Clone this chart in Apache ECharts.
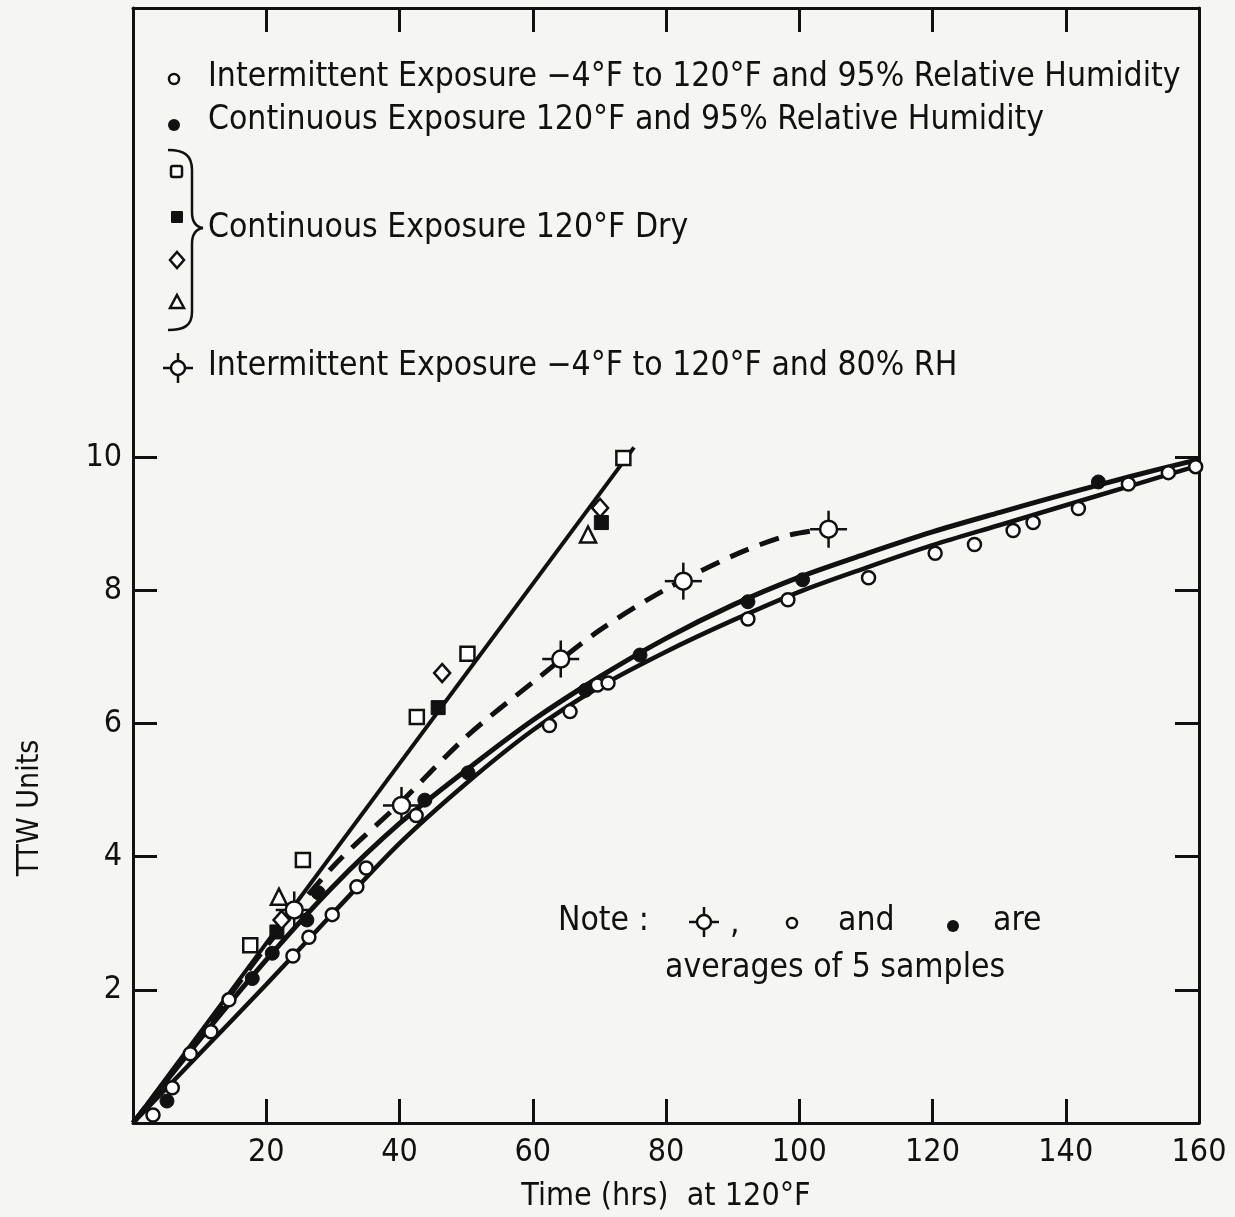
<!DOCTYPE html>
<html>
<head>
<meta charset="utf-8">
<script src="https://cdn.jsdelivr.net/npm/echarts@6/dist/echarts.min.js"></script>
<style>
  html, body { margin: 0; padding: 0; background: #f5f5f3; }
  #chart { width: 1235px; height: 1217px; }
</style>
</head>
<body>
<div id="chart"></div>
<script>
// ---- axis ticks and labels ----
const xTickValues = [20, 40, 60, 80, 100, 120, 140];
const xLabelValues = [20, 40, 60, 80, 100, 120, 140, 160];
const yTickValues = [2, 4, 6, 8, 10];

// ---- measured points (Time hrs, TTW units) ----
// Intermittent exposure -4°F to 120°F, 95% RH (open circles)
const intermittent95 = [
  [3.0, 0.12], [5.9, 0.53], [8.6, 1.04], [11.7, 1.37], [14.4, 1.85],
  [24.0, 2.51], [26.4, 2.79], [29.9, 3.13], [33.6, 3.55], [35.0, 3.83],
  [42.5, 4.62], [62.5, 5.97], [65.6, 6.18], [69.7, 6.58], [71.3, 6.61],
  [92.3, 7.57], [98.3, 7.86], [110.4, 8.19], [120.4, 8.56], [126.3, 8.69],
  [132.1, 8.90], [135.1, 9.02], [141.9, 9.23], [149.4, 9.60], [155.4, 9.77],
  [159.5, 9.86]
];
// Continuous exposure 120°F, 95% RH (filled circles)
const continuous95 = [
  [5.1, 0.33], [17.9, 2.17], [20.9, 2.55], [26.1, 3.05], [27.8, 3.46],
  [43.8, 4.85], [50.3, 5.26], [67.9, 6.50], [76.1, 7.03], [92.3, 7.83],
  [100.5, 8.16], [144.9, 9.63]
];
// Continuous exposure 120°F dry (four sample sets)
const dryOpenSquare = [[17.6, 2.67], [25.5, 3.95], [42.6, 6.10], [50.2, 7.05], [73.6, 9.99]];
const dryFilledSquare = [[21.6, 2.87], [45.8, 6.24], [70.3, 9.02]];
const dryDiamond = [[22.3, 3.05], [46.4, 6.76], [70.1, 9.24]];
const dryTriangle = [[21.9, 3.40], [68.3, 8.84]];
// Intermittent exposure -4°F to 120°F, 80% RH
const intermittent80 = [[24.2, 3.20], [40.3, 4.77], [64.2, 6.97], [82.6, 8.14], [104.4, 8.92]];

// ---- fitted curves ----
const dryFit = [[0, 0], [75.2, 10.15]];
const continuous95Fit = [
  [0, 0], [10, 1.25], [20, 2.45], [30, 3.55], [40, 4.5], [50, 5.3], [60, 6.05],
  [70, 6.7], [80, 7.28], [90, 7.78], [100, 8.2], [110, 8.55], [120, 8.88],
  [130, 9.17], [140, 9.45], [150, 9.72], [160, 9.97]
];
const intermittent95Fit = [
  [0, 0], [10, 1.04], [20, 2.08], [30, 3.15], [40, 4.2], [50, 5.1], [60, 5.9],
  [70, 6.55], [80, 7.08], [90, 7.55], [100, 7.98], [110, 8.34], [120, 8.68],
  [130, 8.98], [140, 9.28], [150, 9.58], [160, 9.88]
];
const intermittent80Fit = [
  [0, 0], [10, 1.3], [20, 2.65], [30, 3.85], [40, 4.8], [50, 5.8], [60, 6.62],
  [70, 7.4], [80, 8.02], [90, 8.52], [98, 8.82], [104.4, 8.93]
];

const INK = '#111';
const FONT = "'Liberation Sans Narrow', 'DejaVu Sans Condensed', 'Roboto Condensed', Roboto, sans-serif";

function crosshairShape(cx, cy, r, arm, lw) {
  const s = { stroke: INK, lineWidth: lw };
  return [
    { type: 'line', shape: { x1: cx - r - arm, y1: cy, x2: cx - r, y2: cy }, style: s },
    { type: 'line', shape: { x1: cx + r, y1: cy, x2: cx + r + arm, y2: cy }, style: s },
    { type: 'line', shape: { x1: cx, y1: cy - r - arm, x2: cx, y2: cy - r }, style: s },
    { type: 'line', shape: { x1: cx, y1: cy + r, x2: cx, y2: cy + r + arm }, style: s },
    { type: 'circle', shape: { cx: cx, cy: cy, r: r }, style: { fill: '#fff', stroke: INK, lineWidth: lw } }
  ];
}

function txt(x, y, text, size, align) {
  return {
    type: 'text', x: x, y: y, silent: true,
    style: { text: text, fill: INK, font: size + 'px ' + FONT, textAlign: align || 'left', textVerticalAlign: 'middle' }
  };
}

const braceStyle = { fill: null, stroke: INK, lineWidth: 2.5 };
function bez(x1, y1, c1x, c1y, c2x, c2y, x2, y2) {
  return { type: 'bezierCurve', silent: true, style: braceStyle,
    shape: { x1: x1, y1: y1, cpx1: c1x, cpy1: c1y, cpx2: c2x, cpy2: c2y, x2: x2, y2: y2 } };
}
function seg(x1, y1, x2, y2) {
  return { type: 'line', silent: true, style: braceStyle, shape: { x1: x1, y1: y1, x2: x2, y2: y2 } };
}

const openStyle = { color: '#fff', borderColor: INK, borderWidth: 2.5, opacity: 1 };
const filledStyle = { color: INK, borderColor: INK, borderWidth: 1, opacity: 1 };

function axisCommon(extra) {
  return Object.assign({
    type: 'value',
    axisLine: { show: true, onZero: false, lineStyle: { color: INK, width: 3 } },
    splitLine: { show: false },
    axisTick: { show: true, inside: true, length: 24, lineStyle: { color: INK, width: 3 } },
    axisLabel: { show: false }
  }, extra);
}

const chart = echarts.init(document.getElementById('chart'), null, { renderer: 'canvas' });

const option = {
  backgroundColor: '#f5f5f3',
  animation: false,
  grid: { left: 133, right: 36, top: 8, bottom: 94, outerBoundsMode: 'none', containLabel: false },
  xAxis: [
    axisCommon({
      min: 0, max: 160, interval: 20, position: 'bottom',
      axisTick: { show: true, inside: true, length: 24, customValues: xTickValues, lineStyle: { color: INK, width: 3 } },
      axisLabel: { show: true, customValues: xLabelValues, margin: 14, fontSize: 32, fontFamily: FONT, color: INK },
      name: 'Time (hrs)  at 120°F', nameLocation: 'middle', nameGap: 58,
      nameTextStyle: { fontSize: 32, fontFamily: FONT, color: INK }
    }),
    axisCommon({
      min: 0, max: 160, interval: 20, position: 'top',
      axisTick: { show: true, inside: true, length: 24, customValues: xTickValues, lineStyle: { color: INK, width: 3 } }
    })
  ],
  yAxis: [
    axisCommon({
      min: 0, max: 16.75, interval: 2, position: 'left',
      axisTick: { show: true, inside: true, length: 24, customValues: yTickValues, lineStyle: { color: INK, width: 3 } },
      axisLabel: { show: true, customValues: yTickValues, margin: 11, fontSize: 32, fontFamily: FONT, color: INK }
    }),
    axisCommon({
      min: 0, max: 16.75, interval: 2, position: 'right',
      axisTick: { show: true, inside: true, length: 24, customValues: yTickValues, lineStyle: { color: INK, width: 3 } }
    })
  ],
  series: [
    { type: 'line', data: dryFit, showSymbol: false, silent: true, z: 2,
      lineStyle: { color: INK, width: 4 } },
    { type: 'line', data: continuous95Fit, smooth: 0.3, showSymbol: false, silent: true, z: 2,
      lineStyle: { color: INK, width: 5 } },
    { type: 'line', data: intermittent95Fit, smooth: 0.3, showSymbol: false, silent: true, z: 2,
      lineStyle: { color: INK, width: 4.5 } },
    { type: 'line', data: intermittent80Fit, smooth: 0.3, showSymbol: false, silent: true, z: 2,
      lineStyle: { color: INK, width: 5, type: [20, 12] } },
    { type: 'scatter', data: intermittent95, symbol: 'circle', symbolSize: 13, silent: true, z: 5, itemStyle: openStyle },
    { type: 'scatter', data: continuous95, symbol: 'circle', symbolSize: 14, silent: true, z: 5, itemStyle: filledStyle },
    { type: 'scatter', data: dryOpenSquare, symbol: 'rect', symbolSize: 14, silent: true, z: 5, itemStyle: openStyle },
    { type: 'scatter', data: dryFilledSquare, symbol: 'rect', symbolSize: 14, silent: true, z: 5, itemStyle: filledStyle },
    { type: 'scatter', data: dryDiamond, symbol: 'diamond', symbolSize: [16, 18], silent: true, z: 5, itemStyle: openStyle },
    { type: 'scatter', data: dryTriangle, symbol: 'triangle', symbolSize: 16, silent: true, z: 5, itemStyle: openStyle },
    {
      type: 'custom', data: intermittent80, silent: true, z: 6,
      renderItem: function (params, api) {
        const p = api.coord([api.value(0), api.value(1)]);
        return { type: 'group', children: crosshairShape(p[0], p[1], 8.5, 10, 2.5) };
      }
    }
  ],
  graphic: [
    // legend
    { type: 'circle', shape: { cx: 174, cy: 79, r: 5 }, style: { fill: '#fff', stroke: INK, lineWidth: 2.5 } },
    txt(208, 77, 'Intermittent Exposure −4°F to 120°F and 95% Relative Humidity', 33.4),
    { type: 'circle', shape: { cx: 174, cy: 125, r: 6 }, style: { fill: INK } },
    txt(208, 120, 'Continuous Exposure 120°F and 95% Relative Humidity', 33.4),
    { type: 'rect', shape: { x: 171, y: 166, width: 11, height: 11, r: 2 }, style: { fill: '#fff', stroke: INK, lineWidth: 2.5 } },
    { type: 'rect', shape: { x: 171, y: 211, width: 12, height: 12, r: 1 }, style: { fill: INK } },
    { type: 'polygon', shape: { points: [[177, 252], [184, 260], [177, 268], [170, 260]] }, style: { fill: '#fff', stroke: INK, lineWidth: 2.5 } },
    { type: 'polygon', shape: { points: [[177, 295], [184, 308], [170, 308]] }, style: { fill: '#fff', stroke: INK, lineWidth: 2.5 } },
    // curly brace grouping the dry sets
    bez(168, 150, 185, 150, 192, 156, 192, 170),
    seg(192, 170, 192, 212),
    bez(192, 212, 192, 222, 196, 227, 203, 228),
    bez(203, 228, 196, 229, 192, 234, 192, 244),
    seg(192, 244, 192, 312),
    bez(192, 312, 192, 325, 185, 330, 168, 330),
    txt(208, 228, 'Continuous Exposure 120°F Dry', 33.4),
    { type: 'group', children: crosshairShape(178, 368, 7, 8, 2.5) },
    txt(208, 366, 'Intermittent Exposure −4°F to 120°F and 80% RH', 33.4),
    // note
    txt(558, 921, 'Note :', 33.4),
    { type: 'group', children: crosshairShape(704, 922, 7, 8, 2.5) },
    txt(730, 924, ',', 33.4),
    { type: 'circle', shape: { cx: 792, cy: 923, r: 5 }, style: { fill: '#fff', stroke: INK, lineWidth: 2.5 } },
    txt(838, 921, 'and', 33.4),
    { type: 'circle', shape: { cx: 953, cy: 926, r: 6 }, style: { fill: INK } },
    txt(993, 921, 'are', 33.4),
    txt(665, 968, 'averages of 5 samples', 33.4),
    // y axis title
    { type: 'text', x: 30, y: 808, rotation: Math.PI / 2, silent: true,
      style: { text: 'TTW Units', fill: INK, font: '30px ' + FONT, textAlign: 'center', textVerticalAlign: 'middle' } }
  ]
};

chart.setOption(option);
</script>
</body>
</html>
